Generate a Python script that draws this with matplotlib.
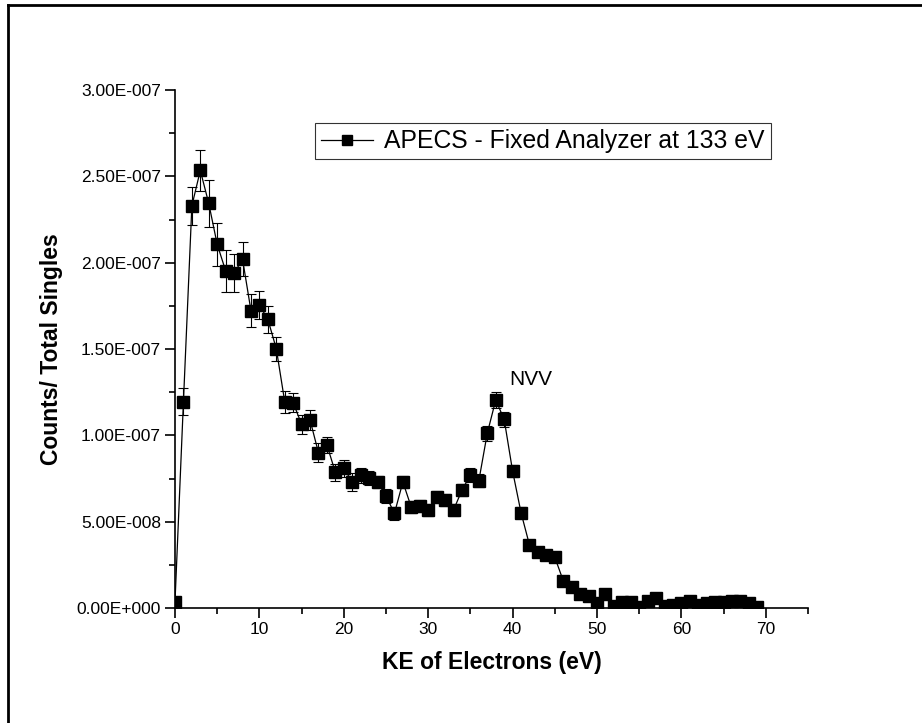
import matplotlib
matplotlib.use("Agg")
import matplotlib.pyplot as plt
from matplotlib.ticker import MultipleLocator, FuncFormatter
from matplotlib.lines import Line2D

plt.rcParams['font.family'] = ['Liberation Sans', 'DejaVu Sans']

# KE of electrons (eV)
ke = list(range(0, 70))

# counts / total singles (units of 1e-7)
counts = [0.036, 1.195, 2.33, 2.534, 2.343, 2.106, 1.953, 1.938, 2.021, 1.722,
          1.754, 1.672, 1.502, 1.195, 1.189, 1.064, 1.089, 0.899, 0.944, 0.786,
          0.809, 0.731, 0.768, 0.755, 0.730, 0.649, 0.548, 0.730, 0.583, 0.591,
          0.567, 0.641, 0.625, 0.567, 0.683, 0.770, 0.737, 1.012, 1.204, 1.093,
          0.793, 0.552, 0.365, 0.326, 0.307, 0.294, 0.158, 0.120, 0.081, 0.069,
          0.027, 0.079, 0.012, 0.036, 0.033, 0.008, 0.042, 0.060, 0.013, 0.020,
          0.027, 0.042, 0.015, 0.027, 0.033, 0.036, 0.038, 0.042, 0.027, 0.008]

# error bars (units of 1e-7)
errors = [0.010, 0.078, 0.110, 0.120, 0.135, 0.125, 0.120, 0.110, 0.100, 0.095,
          0.083, 0.077, 0.070, 0.064, 0.055, 0.054, 0.058, 0.056, 0.048, 0.050,
          0.048, 0.052, 0.044, 0.040, 0.037, 0.039, 0.039, 0.037, 0.035, 0.035,
          0.034, 0.035, 0.035, 0.034, 0.036, 0.038, 0.037, 0.042, 0.045, 0.043,
          0.037, 0.031, 0.025, 0.024, 0.023, 0.023, 0.017, 0.015, 0.012, 0.011,
          0.007, 0.012, 0.005, 0.008, 0.008, 0.004, 0.009, 0.010, 0.005, 0.006,
          0.007, 0.009, 0.005, 0.007, 0.008, 0.008, 0.008, 0.009, 0.007, 0.004]

y = [c * 1e-7 for c in counts]
yerr = [e * 1e-7 for e in errors]

fig = plt.figure(figsize=(9.22, 7.23), dpi=100)
ax = fig.add_axes([175 / 922, 1 - 608 / 723, 633 / 922, 518 / 723])

ax.errorbar(ke, y, yerr=yerr, fmt='none', ecolor='black', elinewidth=0.8,
            capsize=3.5, capthick=0.8, zorder=2)
ax.plot(ke, y, color='black', linewidth=0.9, marker='s', markersize=8.5,
        markerfacecolor='black', markeredgecolor='black', zorder=3)

ax.set_xlim(0, 75)
ax.set_ylim(0, 3e-7)
ax.xaxis.set_major_locator(MultipleLocator(10))
ax.xaxis.set_minor_locator(MultipleLocator(5))
ax.yaxis.set_major_locator(MultipleLocator(5e-8))
ax.yaxis.set_minor_locator(MultipleLocator(2.5e-8))


def sci_fmt(v, pos):
    if v == 0:
        return "0.00E+000"
    s = f"{v:.2E}"
    mant, ex = s.split("E")
    sign = ex[0]
    return f"{mant}E{sign}{int(ex[1:]):03d}"


ax.yaxis.set_major_formatter(FuncFormatter(sci_fmt))

for side in ['top', 'right']:
    ax.spines[side].set_visible(False)
for side in ['left', 'bottom']:
    ax.spines[side].set_linewidth(1.2)

ax.tick_params(which='major', direction='out', length=7, width=1.2, labelsize=12.5, pad=3)
ax.tick_params(which='minor', direction='out', length=4, width=1.2)

ax.set_xlabel("KE of Electrons (eV)", fontsize=16.5, fontweight='bold', labelpad=10)
ax.set_ylabel("Counts/ Total Singles", fontsize=16.5, fontweight='bold', labelpad=10)

ax.text(39.6, 1.29e-7, "NVV", fontsize=15, ha='left', va='baseline')

handle = Line2D([], [], color='black', linewidth=0.9, marker='s', markersize=7)
leg = ax.legend([handle], ["APECS - Fixed Analyzer at 133 eV"], loc='upper left',
                bbox_to_anchor=((315 - 175) / 633, (608 - 123) / 518),
                fontsize=17.8, frameon=True, fancybox=False, edgecolor='black',
                borderpad=0.25, handlelength=2.1, handletextpad=0.45, borderaxespad=0)
leg.get_frame().set_linewidth(0.8)

# page frame
fig.add_artist(Line2D([8 / 922, 8 / 922], [0, 1 - 5 / 723], color='black', linewidth=2,
                      transform=fig.transFigure))
fig.add_artist(Line2D([8 / 922, 1], [1 - 5 / 723, 1 - 5 / 723], color='black', linewidth=2,
                      transform=fig.transFigure))

fig.savefig("out.png", dpi=100)
